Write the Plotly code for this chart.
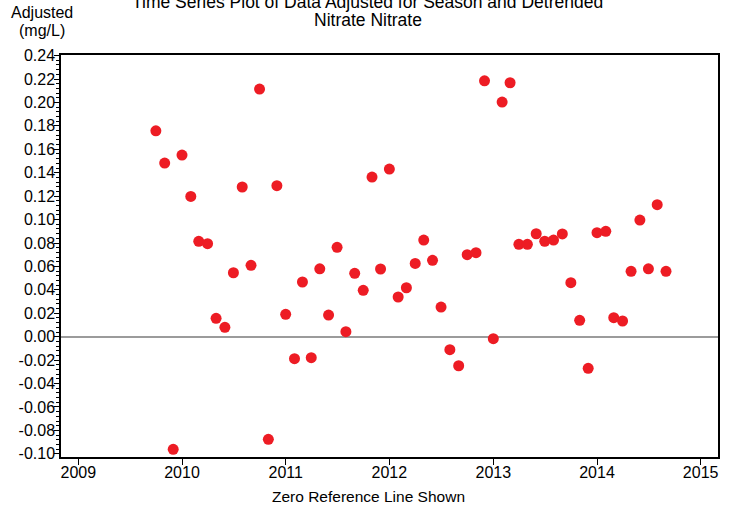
import plotly.graph_objects as go

# Monthly observation dates (Oct 2009 - Sep 2014)
months = [
    "2009-10-01", "2009-11-01", "2009-12-01",
    "2010-01-01", "2010-02-01", "2010-03-01", "2010-04-01", "2010-05-01", "2010-06-01",
    "2010-07-01", "2010-08-01", "2010-09-01", "2010-10-01", "2010-11-01", "2010-12-01",
    "2011-01-01", "2011-02-01", "2011-03-01", "2011-04-01", "2011-05-01", "2011-06-01",
    "2011-07-01", "2011-08-01", "2011-09-01", "2011-10-01", "2011-11-01", "2011-12-01",
    "2012-01-01", "2012-02-01", "2012-03-01", "2012-04-01", "2012-05-01", "2012-06-01",
    "2012-07-01", "2012-08-01", "2012-09-01", "2012-10-01", "2012-11-01", "2012-12-01",
    "2013-01-01", "2013-02-01", "2013-03-01", "2013-04-01", "2013-05-01", "2013-06-01",
    "2013-07-01", "2013-08-01", "2013-09-01", "2013-10-01", "2013-11-01", "2013-12-01",
    "2014-01-01", "2014-02-01", "2014-03-01", "2014-04-01", "2014-05-01", "2014-06-01",
    "2014-07-01", "2014-08-01", "2014-09-01",
]

# Seasonally adjusted, detrended nitrate values (mg/L)
adjusted = [
    0.1758, 0.1482, -0.0961,
    0.1551, 0.1198, 0.0814, 0.0794, 0.0157, 0.0080,
    0.0546, 0.1278, 0.0609, 0.2114, -0.0876, 0.1289,
    0.0191, -0.0188, 0.0467, -0.0179, 0.0580, 0.0185,
    0.0763, 0.0043, 0.0541, 0.0396, 0.1363, 0.0578,
    0.1431, 0.0339, 0.0418, 0.0626, 0.0825, 0.0652,
    0.0253, -0.0111, -0.0248, 0.0700, 0.0717, 0.2185,
    -0.0017, 0.2003, 0.2168, 0.0789, 0.0789, 0.0879,
    0.0815, 0.0825, 0.0877, 0.0461, 0.0140, -0.0270,
    0.0888, 0.0900, 0.0162, 0.0134, 0.0558, 0.0996,
    0.0580, 0.1127, 0.0558,
]

# Y tick values / labels
y_tick_vals = [0.24, 0.22, 0.20, 0.18, 0.16, 0.14, 0.12, 0.10, 0.08, 0.06,
               0.04, 0.02, 0.00, -0.02, -0.04, -0.06, -0.08, -0.10]
y_tick_text = ["0.24", "0.22", "0.20", "0.18", "0.16", "0.14", "0.12", "0.10", "0.08", "0.06",
               "0.04", "0.02", "0.00", "-0.02", "-0.04", "-0.06", "-0.08", "-0.10"]

title_lines = ["Time Series Plot of Data Adjusted for Season and Detrended", "Nitrate Nitrate"]
y_title_lines = ["Adjusted", "(mg/L)"]
x_title = "Zero Reference Line Shown"

FONT = "Liberation Sans, Arial, sans-serif"

fig = go.Figure()
fig.add_trace(go.Scatter(
    x=months, y=adjusted, mode="markers",
    marker=dict(size=11, color="rgb(237,28,36)", line=dict(width=0)),
    hoverinfo="x+y", showlegend=False,
))

fig.update_layout(
    width=735, height=509,
    margin=dict(l=61, r=17, t=55, b=52, autoexpand=False),
    paper_bgcolor="white", plot_bgcolor="white",
    font=dict(family=FONT, size=16, color="black"),
    showlegend=False,
)

fig.update_xaxes(
    type="date", automargin=False,
    range=["2008-11-01", "2015-03-03"],
    tick0="2009-01-01", dtick="M12", tickformat="%Y",
    ticks="outside", ticklen=6, tickwidth=1, tickcolor="black",
    ticklabelstandoff=-6,
    showline=True, linecolor="black", linewidth=1.5, mirror=True,
    showgrid=False, zeroline=False,
    tickfont=dict(size=16),
)

fig.update_yaxes(
    automargin=False,
    range=[-0.1027, 0.2405],
    tickmode="array", tickvals=y_tick_vals, ticktext=y_tick_text,
    ticks="outside", ticklen=5, tickwidth=1, tickcolor="black",
    ticklabelstandoff=-4,
    minor=dict(dtick=0.004, tick0=0, ticks="outside", ticklen=3, tickwidth=1, tickcolor="black"),
    showline=True, linecolor="black", linewidth=1.5, mirror=True,
    showgrid=False,
    zeroline=True, zerolinecolor="rgb(155,155,155)", zerolinewidth=2,
    tickfont=dict(size=16),
)

PLOT_TOP, PLOT_BOTTOM, PLOT_LEFT, PLOT_W = 55, 457, 61, 657
PLOT_H = PLOT_BOTTOM - PLOT_TOP


def py(pix):
    return (PLOT_BOTTOM - pix) / PLOT_H


def px(pix):
    return (pix - PLOT_LEFT) / PLOT_W


# Title (two lines, page-centred)
for txt, ypix in zip(title_lines, [2, 20]):
    fig.add_annotation(text=txt, xref="paper", yref="paper", x=px(367.5), y=py(ypix),
                       xanchor="center", yanchor="middle", showarrow=False,
                       font=dict(size=17.5, family=FONT))
# Y axis title at top-left
for txt, ypix in zip(y_title_lines, [13, 30]):
    fig.add_annotation(text=txt, xref="paper", yref="paper", x=px(42), y=py(ypix),
                       xanchor="center", yanchor="middle", showarrow=False,
                       font=dict(size=16, family=FONT))
# X axis title
fig.add_annotation(text=x_title, xref="paper", yref="paper", x=px(368), y=py(496),
                   xanchor="center", yanchor="middle", showarrow=False,
                   font=dict(size=15.5, family=FONT))

fig.write_html("out.html", config={"displayModeBar": False},
               post_script="document.body.style.margin='0';")
